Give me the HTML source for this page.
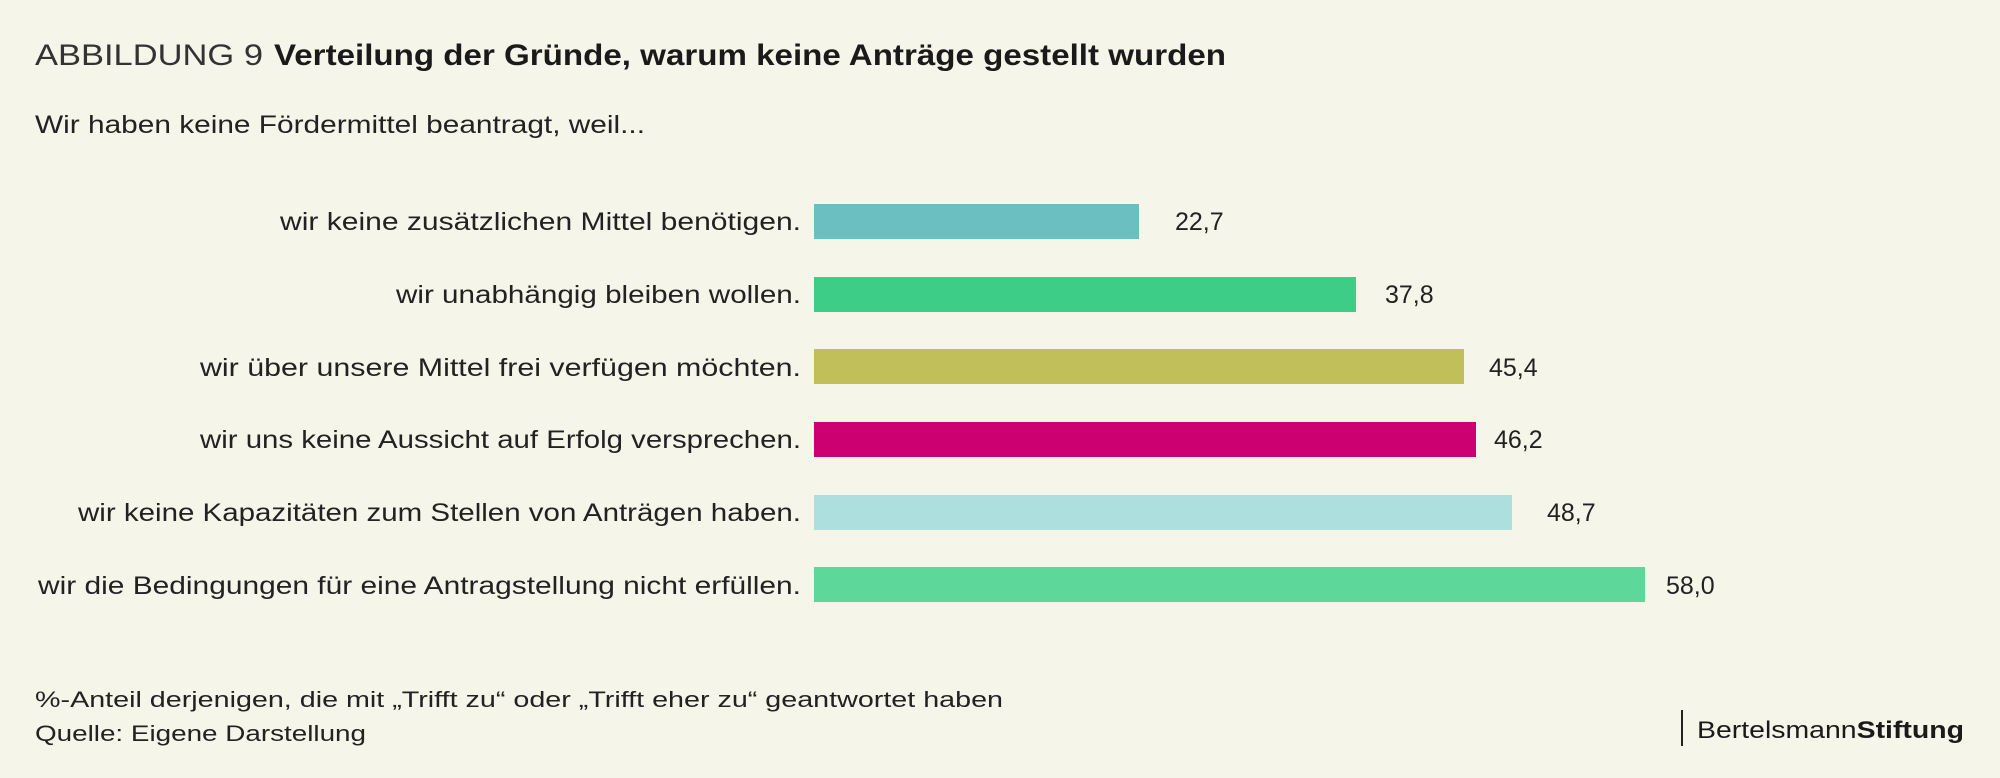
<!DOCTYPE html>
<html><head><meta charset="utf-8"><style>
html,body{margin:0;padding:0;background:#f6f5ea;}
svg{display:block;font-family:"Liberation Sans",sans-serif;}
</style></head><body>
<svg width="2000" height="778" viewBox="0 0 2000 778" xmlns="http://www.w3.org/2000/svg">
<rect width="2000" height="778" fill="#f6f5ea"/>
<text x="35" y="65" font-size="30" fill="#333" textLength="228" lengthAdjust="spacingAndGlyphs">ABBILDUNG 9</text>
<text x="274" y="65" font-size="30" font-weight="bold" fill="#1a1a1a" textLength="952" lengthAdjust="spacingAndGlyphs">Verteilung der Gründe, warum keine Anträge gestellt wurden</text>
<text x="35" y="133" font-size="25" fill="#222" textLength="610" lengthAdjust="spacingAndGlyphs">Wir haben keine Fördermittel beantragt, weil...</text>
<g font-size="25" fill="#222" text-anchor="end">
<text x="801" y="230" textLength="521" lengthAdjust="spacingAndGlyphs">wir keine zusätzlichen Mittel benötigen.</text>
<text x="801" y="303" textLength="405" lengthAdjust="spacingAndGlyphs">wir unabhängig bleiben wollen.</text>
<text x="801" y="376" textLength="601" lengthAdjust="spacingAndGlyphs">wir über unsere Mittel frei verfügen möchten.</text>
<text x="801" y="448" textLength="601" lengthAdjust="spacingAndGlyphs">wir uns keine Aussicht auf Erfolg versprechen.</text>
<text x="801" y="521" textLength="723" lengthAdjust="spacingAndGlyphs">wir keine Kapazitäten zum Stellen von Anträgen haben.</text>
<text x="801" y="594" textLength="763" lengthAdjust="spacingAndGlyphs">wir die Bedingungen für eine Antragstellung nicht erfüllen.</text>
</g>
<rect x="814" y="204" width="325" height="35" fill="#6bbfc0"/>
<rect x="814" y="277" width="542" height="35" fill="#3dcd87"/>
<rect x="814" y="349" width="650" height="35" fill="#c0bf5a"/>
<rect x="814" y="422" width="662" height="35" fill="#cc0070"/>
<rect x="814" y="495" width="698" height="35" fill="#addfdf"/>
<rect x="814" y="567" width="831" height="35" fill="#5dd79a"/>
<g font-size="25" fill="#222">
<text x="1175" y="230">22,7</text>
<text x="1385" y="303">37,8</text>
<text x="1489" y="376">45,4</text>
<text x="1494" y="448">46,2</text>
<text x="1547" y="521">48,7</text>
<text x="1666" y="594">58,0</text>
</g>
<text x="35" y="707" font-size="22" fill="#222" textLength="968" lengthAdjust="spacingAndGlyphs">%-Anteil derjenigen, die mit „Trifft zu“ oder „Trifft eher zu“ geantwortet haben</text>
<text x="35" y="741" font-size="22" fill="#222" textLength="331" lengthAdjust="spacingAndGlyphs">Quelle: Eigene Darstellung</text>
<rect x="1681" y="710" width="2" height="36" fill="#222"/>
<text x="1697" y="738" font-size="24" fill="#1a1a1a" textLength="267" lengthAdjust="spacingAndGlyphs">Bertelsmann<tspan font-weight="bold">Stiftung</tspan></text>
</svg>
</body></html>
